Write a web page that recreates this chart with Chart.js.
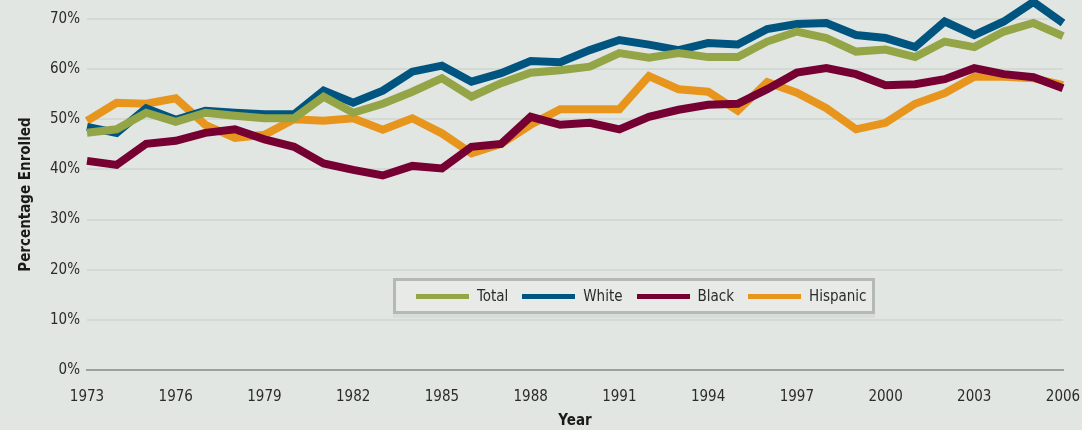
<!DOCTYPE html>
<html>
<head>
<meta charset="utf-8">
<script src="https://cdn.jsdelivr.net/npm/chart.js@4"></script>
<style>
  html, body { margin: 0; padding: 0; background: #e1e6e2; }
  #wrap { position: relative; width: 1082px; height: 430px; }
  #legend {
    position: absolute; left: 393px; top: 278px; width: 456px; height: 30px;
    border: 3px solid #b4b9b5; background: #e7eae7;
    display: flex; align-items: center; padding-left: 20px;
    box-shadow: 0 4px 0 #d8ddd9;
    font-family: "Liberation Sans Narrow", "DejaVu Sans Condensed", sans-serif;
    font-size: 15px; color: #2b2b2b;
  }
  #legend .item { display: flex; align-items: center; margin-right: 14px; }
  #legend .swatch { width: 53px; height: 5px; margin-right: 8px; }
</style>
</head>
<body>
<div id="wrap">
  <canvas id="chart" width="1082" height="430"></canvas>
  <div id="legend"></div>
</div>
<script>
const years = [1973, 1974, 1975, 1976, 1977, 1978, 1979, 1980, 1981, 1982, 1983, 1984,
  1985, 1986, 1987, 1988, 1989, 1990, 1991, 1992, 1993, 1994, 1995, 1996, 1997, 1998,
  1999, 2000, 2001, 2002, 2003, 2004, 2005, 2006];

const total = [47.3, 48.0, 51.3, 49.5, 51.3, 50.7, 50.2, 50.2, 54.5, 51.3, 53.1, 55.5,
  58.2, 54.5, 57.2, 59.3, 59.8, 60.5, 63.2, 62.3, 63.2, 62.4, 62.4, 65.5, 67.5, 66.2,
  63.5, 63.9, 62.4, 65.5, 64.4, 67.5, 69.2, 66.6];
const white = [48.5, 47.3, 52.2, 49.9, 51.7, 51.3, 51.0, 51.0, 55.7, 53.3, 55.7, 59.5,
  60.7, 57.5, 59.2, 61.6, 61.4, 63.8, 65.8, 64.9, 63.8, 65.2, 64.9, 68.0, 69.0, 69.2,
  66.8, 66.2, 64.4, 69.5, 66.8, 69.5, 73.4, 69.2];
const black = [41.7, 40.9, 45.1, 45.7, 47.3, 48.0, 46.0, 44.5, 41.2, 39.9, 38.8, 40.7,
  40.2, 44.5, 45.1, 50.5, 48.9, 49.3, 48.0, 50.5, 51.9, 52.9, 53.1, 56.0, 59.3, 60.2,
  59.0, 56.8, 57.0, 58.0, 60.2, 59.0, 58.4, 56.2];
const hispanic = [49.7, 53.3, 53.1, 54.2, 48.9, 46.3, 46.9, 50.0, 49.7, 50.2, 47.9, 50.2,
  47.2, 43.2, 45.1, 48.9, 52.0, 52.0, 52.0, 58.6, 56.0, 55.5, 51.7, 57.4, 55.3, 52.2,
  48.0, 49.3, 53.1, 55.2, 58.5, 58.5, 58.2, 56.8];

const seriesNames = ["Total", "White", "Black", "Hispanic"];
const seriesColors = ["#93a546", "#005580", "#760031", "#e8951e"];
const seriesData = [total, white, black, hispanic];

const yTicks = [0, 10, 20, 30, 40, 50, 60, 70];

const FONT = "'Liberation Sans Narrow', 'DejaVu Sans Condensed', sans-serif";

const datasets = seriesNames.map((name, i) => ({
    label: name,
    data: seriesData[i],
    borderColor: seriesColors[i],
    backgroundColor: seriesColors[i],
    borderWidth: 8,
    borderJoinStyle: "miter",
    pointRadius: 0,
    tension: 0,
    clip: false
}));

// background behind the canvas
const bgPlugin = {
    id: "bg",
    beforeDraw(chart) {
        const c = chart.ctx;
        c.save();
        c.fillStyle = "#e1e6e2";
        c.fillRect(0, 0, chart.width, chart.height);
        c.restore();
    }
};

new Chart(document.getElementById("chart"), {
    type: "line",
    data: { labels: years, datasets },
    plugins: [bgPlugin],
    options: {
        responsive: false,
        animation: false,
        layout: { padding: { top: 19, right: 19, bottom: 0, left: 0 } },
        plugins: {
            legend: { display: false },
            tooltip: { enabled: false }
        },
        scales: {
            x: {
                grid: { display: false, drawTicks: false },
                border: { display: true, color: "#9ba19d", width: 2 },
                ticks: {
                    autoSkip: false,
                    maxRotation: 0,
                    padding: 18,
                    color: "#2b2b2b",
                    font: { family: FONT, size: 15 },
                    callback(v, i) {
                        const yr = years[i];
                        return (yr - 1973) % 3 === 0 ? String(yr) : "";
                    }
                },
                title: {
                    display: true,
                    text: "Year",
                    color: "#1a1a1a",
                    font: { family: FONT, size: 15, weight: "bold", lineHeight: 1 },
                    padding: { top: 0, bottom: 1 }
                },
                afterFit(s) {
                    s.height = 60;
                    s.paddingLeft = 0;
                    s.paddingRight = 0;
                }
            },
            y: {
                min: 0,
                max: 70,
                afterBuildTicks(s) { s.ticks = yTicks.map(v => ({ value: v })); },
                grid: { color: "#d3d9d4", lineWidth: 2, drawTicks: false },
                border: { display: false },
                ticks: {
                    padding: 7,
                    color: "#2b2b2b",
                    font: { family: FONT, size: 15 },
                    callback: v => v + "%"
                },
                title: {
                    display: true,
                    text: "Percentage Enrolled",
                    color: "#1a1a1a",
                    font: { family: FONT, size: 15, weight: "bold", lineHeight: 1 },
                    padding: { top: 19, bottom: 0 }
                },
                afterFit(s) { s.width = 87; }
            }
        }
    }
});

// legend box
const legendEl = document.getElementById("legend");
seriesNames.forEach((name, i) => {
    const item = document.createElement("div");
    item.className = "item";
    const sw = document.createElement("span");
    sw.className = "swatch";
    sw.style.background = seriesColors[i];
    const txt = document.createElement("span");
    txt.textContent = name;
    item.appendChild(sw);
    item.appendChild(txt);
    legendEl.appendChild(item);
});
</script>
</body>
</html>
